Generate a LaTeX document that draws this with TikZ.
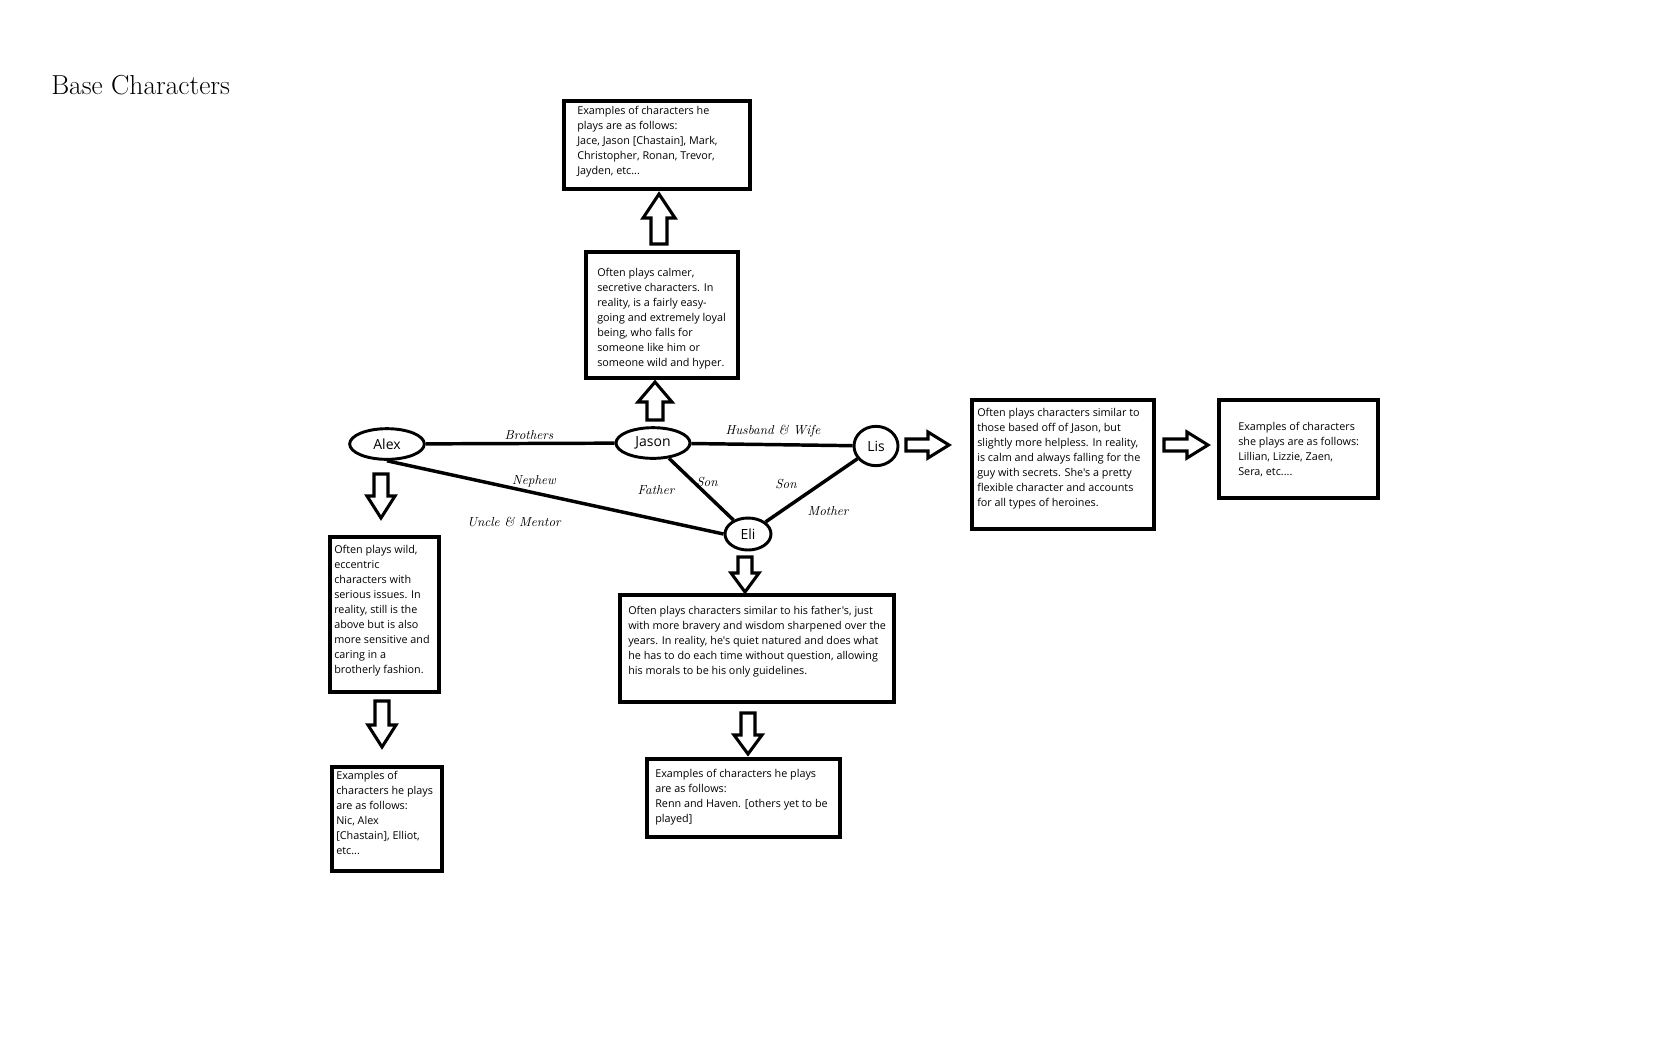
\documentclass[tikz,border=0pt]{standalone}
\usepackage{fontspec}
\newfontfamily\boxfont{Open Sans}
\usetikzlibrary{shapes.geometric,fit}
% vertical block arrow: x, ytail, ybase, ytip, shaft half width, head half width
\newcommand\vblk[6]{\draw[blk] ({#1-#5},#2) -- ({#1-#5},#3) -- ({#1-#6},#3) -- (#1,#4) -- ({#1+#6},#3) -- ({#1+#5},#3) -- ({#1+#5},#2) -- cycle;}
% horizontal block arrow: y, xtail, xbase, xtip, shaft half, head half
\newcommand\hblk[6]{\draw[blk] (#2,{#1-#5}) -- (#3,{#1-#5}) -- (#3,{#1-#6}) -- (#4,#1) -- (#3,{#1+#6}) -- (#3,{#1+#5}) -- (#2,{#1+#5}) -- cycle;}
\begin{document}
\begin{tikzpicture}[x=0.75pt,y=-0.75pt,
  box/.style={draw, line width=2.6pt, inner sep=0pt},
  txt/.style={inner sep=0pt, anchor=base west, font=\boxfont\fontsize{8.1}{11.25}\selectfont},
  ell/.style={draw, ellipse, line width=2.2pt, inner sep=0pt, font=\boxfont\fontsize{10.5}{12}\selectfont},
  link/.style={line width=2.6pt},
  rel/.style={font=\itshape\fontsize{9.8}{11}\selectfont, inner sep=0pt},
  blk/.style={draw, line width=2.3pt, fill=white, line join=miter}]
\useasboundingbox[fill=white] (0,0) rectangle (1658,1040);

\node[anchor=base west, inner sep=0pt, font=\fontsize{20.6}{24}\selectfont] (title) at (51,94) {Base Characters};

% boxes
\node[box, fit={(564,101) (750,189)}] (jacebox) {};
\node[box, fit={(586,252) (738,378)}] (jasonbox) {};
\node[box, fit={(330,537) (439,692)}] (alexbox) {};
\node[box, fit={(332,767) (442,871)}] (alexex) {};
\node[box, fit={(620,595) (894,702)}] (elibox) {};
\node[box, fit={(647,759) (840,837)}] (eliex) {};
\node[box, fit={(972,400) (1154,529)}] (lisbox) {};
\node[box, fit={(1219,400) (1378,498)}] (lisex) {};

% texts
\node[txt] (t1) at (577,114.5) {\parbox[t]{6cm}{\raggedright Examples of characters he\\plays are as follows:\\Jace, Jason [Chastain], Mark,\\Christopher, Ronan, Trevor,\\Jayden, etc...}};
\node[txt] (t2) at (597,276.5) {\parbox[t]{6cm}{\raggedright Often plays calmer,\\secretive characters. In\\reality, is a fairly easy-\\going and extremely loyal\\being, who falls for\\someone like him or\\someone wild and hyper.}};
\node[txt] (t3) at (334,553.5) {\parbox[t]{6cm}{\raggedright Often plays wild,\\eccentric\\characters with\\serious issues. In\\reality, still is the\\above but is also\\more sensitive and\\caring in a\\brotherly fashion.}};
\node[txt] (t4) at (336,779.5) {\parbox[t]{6cm}{\raggedright Examples of\\characters he plays\\are as follows:\\Nic, Alex\\{[}Chastain], Elliot,\\etc...}};
\node[txt] (t5) at (628,614.5) {\parbox[t]{9cm}{\raggedright Often plays characters similar to his father's, just\\with more bravery and wisdom sharpened over the\\years. In reality, he's quiet natured and does what\\he has to do each time without question, allowing\\his morals to be his only guidelines.}};
\node[txt] (t6) at (655,777.5) {\parbox[t]{6cm}{\raggedright Examples of characters he plays\\are as follows:\\Renn and Haven. [others yet to be\\played]}};
\node[txt] (t7) at (977,416.5) {\parbox[t]{6cm}{\raggedright Often plays characters similar to\\those based off of Jason, but\\slightly more helpless. In reality,\\is calm and always falling for the\\guy with secrets. She's a pretty\\flexible character and accounts\\for all types of heroines.}};
\node[txt] (t8) at (1238,430.5) {\parbox[t]{6cm}{\raggedright Examples of characters\\she plays are as follows:\\Lillian, Lizzie, Zaen,\\Sera, etc....}};

% character nodes
\node[ell, minimum width=56pt, minimum height=23pt] (alex) at (387,444) {Alex};
\node[ell, minimum width=55.5pt, minimum height=23pt] (jason) at (653,443) {Jason};
\node[ell, minimum width=33pt, minimum height=29.5pt] (lis) at (876,446) {Lis};
\node[ell, minimum width=34.5pt, minimum height=24pt] (eli) at (748,534) {Eli};

% connectors
\draw[link] (alex) -- (jason);
\draw[link] (jason) -- (lis);
\draw[link] (alex.south) -- (eli.west);
\draw[link] (jason) -- (eli);
\draw[link] (lis) -- (eli);

% relation labels
\node[rel] (lbro) at (529,435) {Brothers};
\node[rel] (lhw) at (773,431) {Husband \& Wife};
\node[rel] (lnep) at (534,481) {Nephew};
\node[rel] (lunc) at (514,522) {Uncle \& Mentor};
\node[rel] (lfat) at (656,490) {Father};
\node[rel] (lson1) at (707,482) {Son};
\node[rel] (lson2) at (786,484) {Son};
\node[rel] (lmot) at (828,511) {Mother};

% block arrows
\vblk{659}{244}{218}{194}{8}{16}
\vblk{655}{420}{402}{382}{8}{17}
\vblk{381}{474}{496}{518}{7}{14}
\vblk{382}{701}{725}{747}{7}{14}
\vblk{745}{557}{573}{592}{7}{14}
\vblk{748}{713}{735}{754}{7}{14}
\hblk{445}{906}{928}{949}{6}{13}
\hblk{445}{1164}{1187}{1208}{6}{13}
\end{tikzpicture}
\end{document}
